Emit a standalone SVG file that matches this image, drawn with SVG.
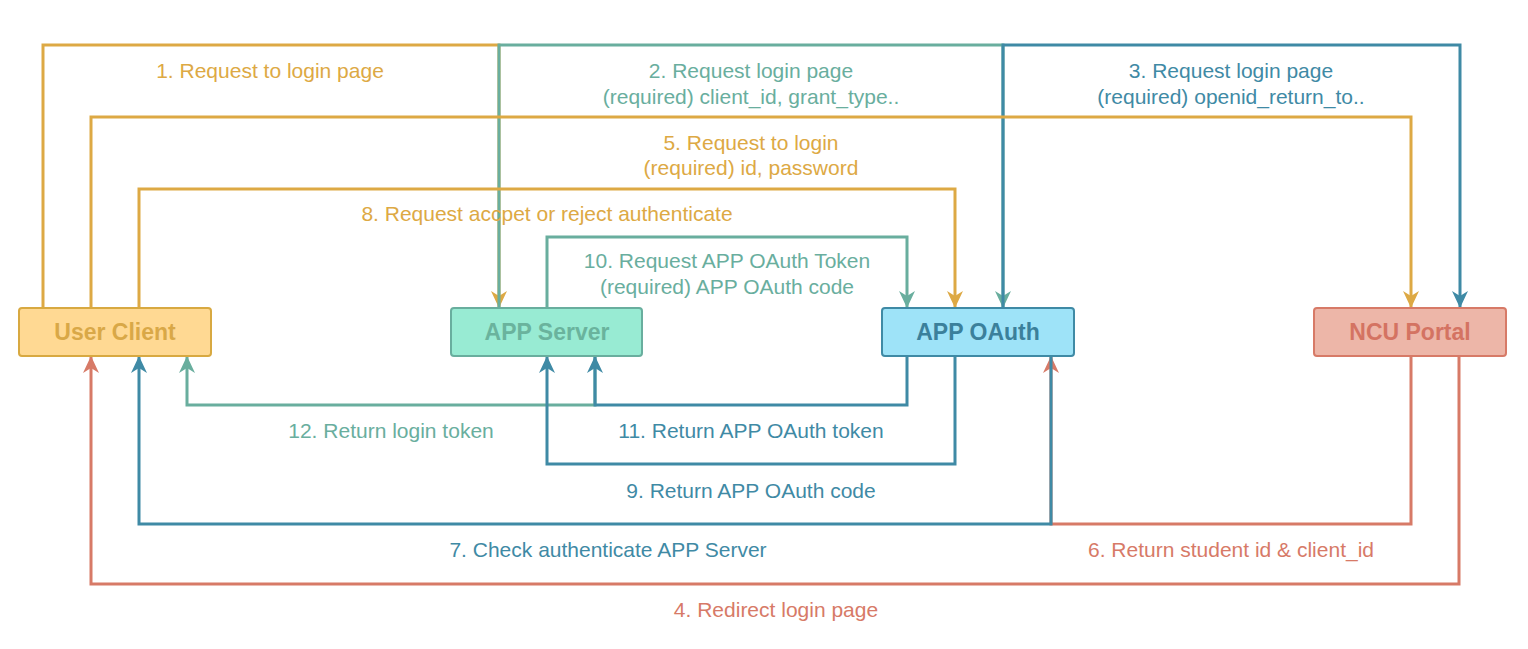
<svg xmlns="http://www.w3.org/2000/svg" width="1528" height="649" viewBox="0 0 1528 649">
<style>
.e{fill:none;stroke-width:3;stroke-linejoin:miter}
.o{stroke:#DDA944}.g{stroke:#69AE9E}.b{stroke:#3F8AA5}.r{stroke:#D77A67}
.l{font-family:"Liberation Sans",Arial,Helvetica,sans-serif;font-size:21px;text-anchor:middle}
.to{fill:#DDA944}.tg{fill:#69AE9E}.tb{fill:#3F8AA5}.tr{fill:#D77A67}
.n{font-family:"Liberation Sans",Arial,Helvetica,sans-serif;font-size:23px;font-weight:bold;text-anchor:middle}
.box{stroke-width:2}
</style>
<defs>
<marker id="ao" markerUnits="userSpaceOnUse" viewBox="-18 -9 19 18" markerWidth="19" markerHeight="18" refX="0" refY="0" orient="auto"><path d="M0,0 L-17,-8 L-12,0 L-17,8 Z" fill="#DDA944"/></marker>
<marker id="ag" markerUnits="userSpaceOnUse" viewBox="-18 -9 19 18" markerWidth="19" markerHeight="18" refX="0" refY="0" orient="auto"><path d="M0,0 L-17,-8 L-12,0 L-17,8 Z" fill="#69AE9E"/></marker>
<marker id="ab" markerUnits="userSpaceOnUse" viewBox="-18 -9 19 18" markerWidth="19" markerHeight="18" refX="0" refY="0" orient="auto"><path d="M0,0 L-17,-8 L-12,0 L-17,8 Z" fill="#3F8AA5"/></marker>
<marker id="ar" markerUnits="userSpaceOnUse" viewBox="-18 -9 19 18" markerWidth="19" markerHeight="18" refX="0" refY="0" orient="auto"><path d="M0,0 L-17,-8 L-12,0 L-17,8 Z" fill="#D77A67"/></marker>
</defs>
<rect width="1528" height="649" fill="#FFFFFF"/>
<g id="connectors">
<path class="e o" d="M43,308 V45 H499 V308" marker-end="url(#ao)"/>
<path class="e g" d="M499,308 V45 H1003 V308" marker-end="url(#ag)"/>
<path class="e b" d="M1003,308 V45 H1460 V308" marker-end="url(#ab)"/>
<path class="e o" d="M91,308 V117 H1411 V308" marker-end="url(#ao)"/>
<path class="e o" d="M139,308 V189 H955 V308" marker-end="url(#ao)"/>
<path class="e g" d="M547,308 V237 H907 V308" marker-end="url(#ag)"/>
<path class="e g" d="M595,356 V405 H187 V356" marker-end="url(#ag)"/>
<path class="e b" d="M907,356 V405 H595 V356" marker-end="url(#ab)"/>
<path class="e b" d="M955,356 V464 H547 V356" marker-end="url(#ab)"/>
<path class="e r" d="M1411,356 V524 H1051 V356" marker-end="url(#ar)"/>
<path class="e b" d="M1051,356 V524 H139 V356" marker-end="url(#ab)"/>
<path class="e r" d="M1459,356 V584 H91 V356" marker-end="url(#ar)"/>
<text class="l to" x="270" y="78">1. Request to login page</text>
<text class="l tg" x="751" y="78">2. Request login page</text>
<text class="l tg" x="751" y="104">(required) client_id, grant_type..</text>
<text class="l tb" x="1231" y="78">3. Request login page</text>
<text class="l tb" x="1231" y="104">(required) openid_return_to..</text>
<text class="l to" x="751" y="150">5. Request to login</text>
<text class="l to" x="751" y="175">(required) id, password</text>
<text class="l to" x="547" y="221">8. Request accpet or reject authenticate</text>
<text class="l tg" x="727" y="268">10. Request APP OAuth Token</text>
<text class="l tg" x="727" y="294">(required) APP OAuth code</text>
<text class="l tg" x="391" y="438">12. Return login token</text>
<text class="l tb" x="751" y="438">11. Return APP OAuth token</text>
<text class="l tb" x="751" y="498">9. Return APP OAuth code</text>
<text class="l tb" x="608" y="557">7. Check authenticate APP Server</text>
<text class="l tr" x="1231" y="557">6. Return student id &amp; client_id</text>
<text class="l tr" x="776" y="617">4. Redirect login page</text>
</g>
<g id="user-client">
<rect class="box" x="19" y="308" width="192" height="48" rx="3" fill="#FFD993" stroke="#D8A941"/>
<text class="n" x="115" y="340" fill="#D9A847">User Client</text>
</g>
<g id="app-server">
<rect class="box" x="451" y="308" width="191" height="48" rx="3" fill="#98EBD3" stroke="#69AE9E"/>
<text class="n" x="547" y="340" fill="#6AB39D">APP Server</text>
</g>
<g id="app-oauth">
<rect class="box" x="882" y="308" width="192" height="48" rx="3" fill="#9EE3F8" stroke="#3F8AA5"/>
<text class="n" x="978" y="340" fill="#3B809B">APP OAuth</text>
</g>
<g id="ncu-portal">
<rect class="box" x="1314" y="308" width="192" height="48" rx="3" fill="#EDB6A8" stroke="#D77A67"/>
<text class="n" x="1410" y="340" fill="#D47362">NCU Portal</text>
</g>
</svg>
